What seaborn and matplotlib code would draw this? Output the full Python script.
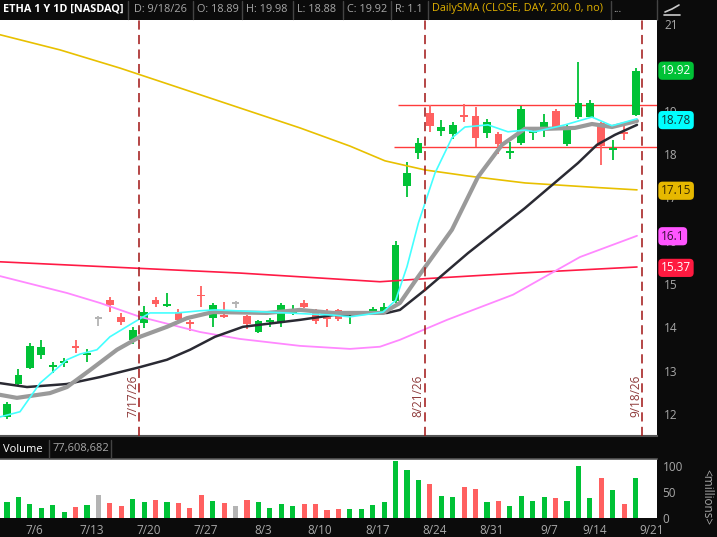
import matplotlib
matplotlib.use("Agg")
import matplotlib.pyplot as plt
import matplotlib.transforms as mtrans
from matplotlib.lines import Line2D
import seaborn as sns
import pandas as pd

# ---------------- data ----------------
opens = [11.93, 12.69, 13.06, 13.36, 13.08, 13.18, 13.55, 13.36, 14.19, 14.63,
         14.24, 13.71, 14.10, 14.63, 14.49, 14.35, 14.10, 14.74, 14.21, 14.28,
         14.54, 14.26, 13.89, 14.12, 14.12, 14.33, 14.56, 14.38, 14.24, 14.40,
         14.31, 14.31, 14.33, 14.33, 14.61, 17.26, 18.02, 18.95, 18.53, 18.46,
         18.90, 18.88, 18.48, 18.46, 18.02, 18.25, 18.48, 18.62, 18.99, 18.23,
         18.85, 18.85, 18.72, 18.09, 18.51, 18.89]
highs = [12.28, 13.04, 13.64, 13.71, 13.20, 13.29, 13.71, 13.50, 14.26, 14.70,
         14.33, 14.01, 14.49, 14.70, 14.79, 14.42, 14.17, 14.95, 14.56, 14.58,
         14.61, 14.28, 14.17, 14.21, 14.56, 14.51, 14.63, 14.42, 14.42, 14.42,
         14.35, 14.37, 14.47, 14.56, 15.99, 17.82, 18.37, 19.13, 18.78, 18.74,
         19.15, 19.08, 18.81, 18.51, 18.28, 19.11, 18.62, 18.92, 19.04, 18.69,
         20.12, 19.25, 18.74, 18.32, 18.74, 19.98]
lows = [11.88, 12.67, 13.04, 13.27, 12.95, 13.08, 13.41, 13.20, 14.03, 14.35,
        14.05, 13.61, 13.98, 14.47, 14.47, 14.10, 13.92, 14.47, 14.01, 14.21,
        14.44, 13.96, 13.87, 14.01, 14.01, 14.28, 14.44, 14.08, 14.01, 14.15,
        14.08, 14.28, 14.31, 14.31, 14.56, 17.01, 17.88, 18.51, 18.42, 18.35,
        18.74, 18.16, 18.37, 18.00, 17.88, 18.21, 18.32, 18.39, 18.62, 18.18,
        18.81, 18.83, 17.75, 17.86, 18.32, 18.88]
closes = [12.23, 12.90, 13.57, 13.55, 13.13, 13.22, 13.52, 13.41, 14.19, 14.51,
          14.12, 13.94, 14.35, 14.54, 14.54, 14.17, 14.08, 14.71, 14.51, 14.24,
          14.54, 14.08, 14.15, 14.17, 14.51, 14.42, 14.47, 14.15, 14.19, 14.19,
          14.33, 14.35, 14.42, 14.47, 15.90, 17.56, 18.25, 18.65, 18.62, 18.67,
          18.85, 18.37, 18.74, 18.23, 18.07, 19.04, 18.53, 18.74, 18.62, 18.58,
          19.18, 19.18, 18.18, 18.14, 18.46, 19.92]
volumes = [31, 40, 27, 19, 25, 12, 21, 25, 45, 29,
           23, 36, 31, 35, 31, 29, 19, 45, 33, 29,
           23, 35, 31, 19, 27, 23, 27, 27, 15, 17,
           17, 17, 25, 31, 110, 92, 73, 65, 42, 40,
           60, 56, 31, 33, 23, 42, 33, 40, 38, 33,
           100, 38, 77, 54, 27, 77.6]

# moving-average traces (bar position, price)
cyan_pos = [-0.61, 1.14, 2.89, 5.25, 6.39, 7.87, 9.01, 11.02, 12.51, 14.87, 16.89, 18.2,
            22.75, 28.52, 30.01, 32.9, 34.0, 35.0, 36.0, 37.45, 38.93, 40.07, 42.08,
            43.83, 45.32, 46.19, 48.82, 51.18, 52.93, 55.12]
cyan_val = [11.93, 12.05, 12.71, 13.25, 13.38, 13.48, 13.78, 14.10, 14.33, 14.33, 14.38, 14.40,
            14.35, 14.28, 14.24, 14.35, 14.62, 15.4, 16.41, 17.56, 18.37, 18.62, 18.67,
            18.51, 18.55, 18.51, 18.67, 18.85, 18.65, 18.81]
gray_pos = [-0.61, 0.87, 3.76, 5.25, 7.26, 9.62, 11.64, 14.0, 15.75, 18.02, 22.75, 25.63,
            28.52, 32.9, 34.38, 35.96, 38.93, 41.21, 43.31, 45.32, 47.33, 49.69, 51.18,
            52.93, 55.12]
gray_val = [12.44, 12.37, 12.48, 12.62, 13.01, 13.48, 13.78, 14.01, 14.21, 14.35, 14.33, 14.40,
            14.33, 14.33, 14.56, 15.16, 16.25, 17.47, 18.21, 18.58, 18.58, 18.60, 18.69,
            18.62, 18.76]
black_pos = [-0.61, 1.75, 5.25, 8.14, 11.64, 14.0, 16.01, 18.2, 20.65, 25.63, 28.52, 33.25,
             34.38, 36.57, 40.33, 45.32, 49.96, 51.62, 53.19, 55.12]
black_val = [12.71, 12.62, 12.69, 12.85, 13.08, 13.25, 13.48, 13.78, 14.01, 14.17, 14.28, 14.33,
             14.40, 14.86, 15.71, 16.75, 17.79, 18.21, 18.44, 18.67]
pink_pos = [-0.61, 5.25, 8.14, 11.64, 16.89, 20.38, 25.63, 30.01, 32.63, 34.38, 38.5, 44.27,
            50.13, 55.12]
pink_val = [15.18, 14.79, 14.56, 14.24, 13.89, 13.73, 13.57, 13.50, 13.55, 13.71, 14.17, 14.75,
            15.62, 16.11]
red_pos = [-0.61, 20.38, 32.63, 36.57, 44.88, 55.12]
red_val = [15.51, 15.25, 15.05, 15.12, 15.25, 15.39]
yellow_pos = [-0.61, 4.64, 9.89, 15.14, 20.38, 25.63, 30.01, 33.07, 36.57, 40.33, 45.32,
              51.88, 55.12]
yellow_val = [20.75, 20.40, 19.98, 19.52, 19.06, 18.60, 18.18, 17.84, 17.63, 17.49, 17.33,
              17.22, 17.17]

date_ticks = ["7/6", "7/13", "7/20", "7/27", "8/3", "8/10", "8/17", "8/24", "8/31",
              "9/7", "9/14", "9/21"]
date_tick_bars = [2, 7, 12, 17, 22, 27, 32, 37, 42, 47, 51, 56]
price_ticks = [12, 13, 14, 15, 16, 17, 18, 19, 21]
marker_labels = ["7/17/26", "8/21/26", "9/18/26"]
marker_bars = [11, 36, 55]
level_values = [19.13, 18.16]
level_start_bars = [34.2, 33.9]
badge_texts = ["19.92", "18.78", "17.15", "16.1", "15.37"]
badge_values = [19.92, 18.78, 17.15, 16.1, 15.37]

# ---------------- style ----------------
sns.set_style("white")
plt.rcParams['font.family'] = ['Open Sans', 'DejaVu Sans']

GREEN = '#00c236'
RED = '#ff6060'
GRAY = '#b4b4b4'
BG = '#0b0b0b'
TXT = '#a8a8a8'

W, H = 717, 537
fig = plt.figure(figsize=(W / 100, H / 100), dpi=100, facecolor=BG)


def fx(px):
    return px / W


def fy(py):
    return 1 - py / H


ax = fig.add_axes([0, fy(436), fx(657), (436 - 20) / H])
axv = fig.add_axes([0, fy(518), fx(657), (518 - 459) / H])

n = len(opens)
pos = list(range(n))
cols = []
for o, c in zip(opens, closes):
    cols.append(GREEN if c > o else (RED if c < o else GRAY))

# candles
for i in range(n):
    ax.vlines(pos[i], lows[i], highs[i], color=cols[i], lw=1.3, zorder=3)
    lo = min(opens[i], closes[i])
    hgt = max(abs(closes[i] - opens[i]), 0.04)
    ax.bar(pos[i], hgt, bottom=lo, width=0.68, color=cols[i], lw=0, zorder=3)

# moving averages
lines = [
    (yellow_pos, yellow_val, '#e8c000', 1.2),
    (red_pos, red_val, '#ff1a45', 1.2),
    (pink_pos, pink_val, '#ff88ff', 1.3),
    (black_pos, black_val, '#2a2a33', 1.8),
    (gray_pos, gray_val, '#9a9a9a', 3.0),
    (cyan_pos, cyan_val, '#44ffff', 1.2),
]
for p, v, c, lw in lines:
    df = pd.DataFrame({'pos': p, 'price': v})
    sns.lineplot(data=df, x='pos', y='price', ax=ax, color=c, lw=lw, sort=False,
                 zorder=4, estimator=None)

# horizontal levels
for lv, st in zip(level_values, level_start_bars):
    ax.hlines(lv, st, 58, color='#ff3b3b', lw=1.0, zorder=2)

# dashed markers
for lab, b in zip(marker_labels, marker_bars):
    xm = b + 0.58
    ax.axvline(xm, color='#a01414', lw=1.1, dashes=(6, 3.5), zorder=5)
    ax.text(xm - 0.6, 12.42, lab, rotation=90, color='#8e3a3a', fontsize=8.5,
            ha='center', va='center', zorder=6)

ax.set_xlim(-0.61, 56.87)
ax.set_ylim(11.49, 21.09)
ax.set_xlabel('')
ax.set_ylabel('')
ax.set_xticks([])
ax.yaxis.tick_right()
ax.set_yticks(price_ticks)
ax.set_yticklabels([str(t) for t in price_ticks])
ax.tick_params(axis='y', length=0, pad=5, labelsize=8.5, labelcolor=TXT)
for s in ax.spines.values():
    s.set_visible(False)
ax.spines['bottom'].set_visible(True)
ax.spines['bottom'].set_color('#555555')
ax.spines['bottom'].set_linewidth(1.5)

# price badges
blend = mtrans.blended_transform_factory(ax.transAxes, ax.transData)
badge_style = [(GREEN, 'white'), ('#00ffff', '#103838'), ('#e6b800', '#3a2a00'),
               ('#ff55ff', '#3a103a'), ('#ff1a40', 'white')]
for t, v, (fc, tc) in zip(badge_texts, badge_values, badge_style):
    ax.text(1.006, v, t, transform=blend, ha='left', va='center', fontsize=8.5, color=tc,
            bbox=dict(boxstyle='round,pad=0.22,rounding_size=0.35', fc=fc, ec='none'),
            clip_on=False, zorder=10)

# volume
axv.bar(pos, volumes, width=0.45, color=cols, lw=0)
axv.set_xlim(-0.61, 56.87)
axv.set_ylim(0, 113.5)
axv.yaxis.tick_right()
axv.set_yticks([0, 50, 100])
axv.set_yticklabels(['0', '50', '100'])
axv.tick_params(axis='y', length=0, pad=4, labelsize=8.5, labelcolor=TXT)
axv.set_xticks([b + 0.4 for b in date_tick_bars])
axv.set_xticklabels(date_ticks)
axv.tick_params(axis='x', length=0, pad=4, labelsize=8.5, labelcolor=TXT)
for s in axv.spines.values():
    s.set_visible(False)
axv.spines['top'].set_visible(True)
axv.spines['top'].set_color('#555555')
axv.spines['top'].set_linewidth(1.2)

# header bar
yh = fy(9)
fig.text(fx(3), yh, "ETHA 1 Y 1D [NASDAQ]", color='white', fontsize=7.8, fontweight='bold',
         va='center', ha='left')
hdr = [(134, "D: 9/18/26", TXT), (197, "O: 18.89", TXT), (246, "H: 19.98", TXT),
       (297, "L: 18.88", TXT), (347, "C: 19.92", TXT), (395, "R: 1.1", TXT),
       (432, "DailySMA (CLOSE, DAY, 200, 0, no)", '#e0b000'), (613, "...", TXT)]
for x, t, c in hdr:
    fig.text(fx(x), yh, t, color=c, fontsize=7.8, va='center', ha='left')
for x in [128, 193, 242, 293, 343, 391, 428, 611]:
    fig.add_artist(Line2D([fx(x), fx(x)], [fy(1), fy(19)], color='#444444', lw=1))
fig.add_artist(Line2D([fx(657), fx(657)], [fy(0), fy(20)], color='#444444', lw=1))
# small study icon
fig.add_artist(Line2D([fx(664), fx(680)], [fy(15), fy(15)], color='#cccccc', lw=1.2))
fig.add_artist(Line2D([fx(665), fx(672), fx(679)], [fy(12), fy(9), fy(5)], color='#cccccc', lw=1.2))

# volume header
yv = fy(449)
fig.text(fx(3), yv, "Volume", color='white', fontsize=8, va='center', ha='left')
fig.text(fx(53), yv, "77,608,682", color=TXT, fontsize=8, va='center', ha='left')
for x in [49, 111]:
    fig.add_artist(Line2D([fx(x), fx(x)], [fy(440), fy(458)], color='#444444', lw=1))

fig.text(fx(707), fy(497), "<millions>", rotation=270, color=TXT, fontsize=8.5,
         ha='center', va='center')

fig.savefig("out.png", dpi=100, facecolor=BG)
